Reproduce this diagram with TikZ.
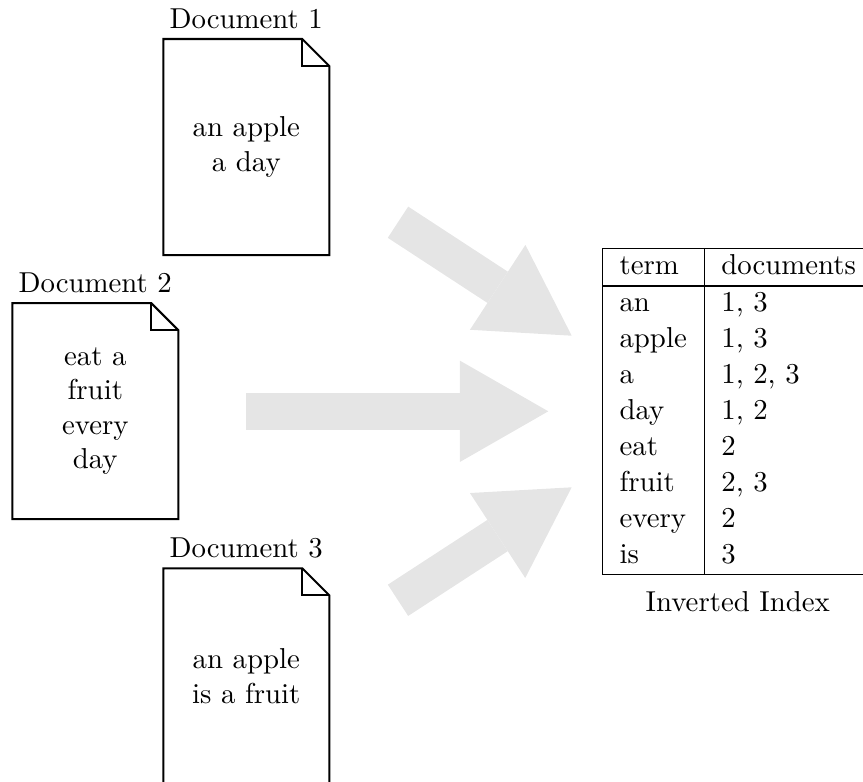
\documentclass[tikz,border=0pt]{standalone}
\usetikzlibrary{arrows.meta}
\tikzset{
  docbody/.style={minimum width=57.64pt, minimum height=75pt, inner sep=0pt, outer sep=0pt, align=center},
  docline/.style={draw=black, line width=0.7pt, line join=miter},
  bigarrow/.style={draw=black!10, line width=12.95pt, -{Triangle[length=30.7pt,width=35.2pt,line width=0pt]}},
}
\newcommand\drawdoc[1]{%
  \draw[docline] (#1.north west) -- ([xshift=-9.375pt]#1.north east) -- ([yshift=-9.375pt]#1.north east) -- (#1.south east) -- (#1.south west) -- cycle;
  \draw[docline] ([xshift=-9.375pt]#1.north east) |- ([yshift=-9.375pt]#1.north east);}
\begin{document}
\begin{tikzpicture}[x=0.34722pt, y=-0.34722pt]
\useasboundingbox (0,0) rectangle (863,782);
\clip (0,0) rectangle (863,782);
% arrows
\coordinate (a1s) at (398,222.2);
\coordinate (a1e) at (571.7,335.7);
\coordinate (a2s) at (246,411.3);
\coordinate (a2e) at (548.3,411.3);
\coordinate (a3s) at (398,600.3);
\coordinate (a3e) at (571.7,487.3);
\draw[bigarrow] (a1s) -- (a1e);
\draw[bigarrow] (a2s) -- (a2e);
\draw[bigarrow] (a3s) -- (a3e);
% documents
\node[docbody, label={above:Document 1}] (doc1) at (246.3,147) {an apple\\a day};
\node[docbody, label={above:Document 2}] (doc2) at (95.3,411.2) {eat a\\fruit\\every\\day};
\node[docbody, label={above:Document 3}] (doc3) at (246.3,676.3) {an apple\\is a fruit};
\drawdoc{doc1}
\drawdoc{doc2}
\drawdoc{doc3}
% index
\node[anchor=north west, inner sep=0pt, outer sep=0pt] (index) at (602.3,248.3) {\renewcommand{\arraystretch}{1.04}%
\begin{tabular}{|l|l|}
\hline
term & documents\\
\hline
an & 1, 3\\
apple & 1, 3\\
a & 1, 2, 3\\
day & 1, 2\\
eat & 2\\
fruit & 2, 3\\
every & 2\\
is & 3\\
\hline
\end{tabular}};
\node[anchor=base] (caption) at ([yshift=-12.7pt]index.south) {Inverted Index};
\end{tikzpicture}
\end{document}
